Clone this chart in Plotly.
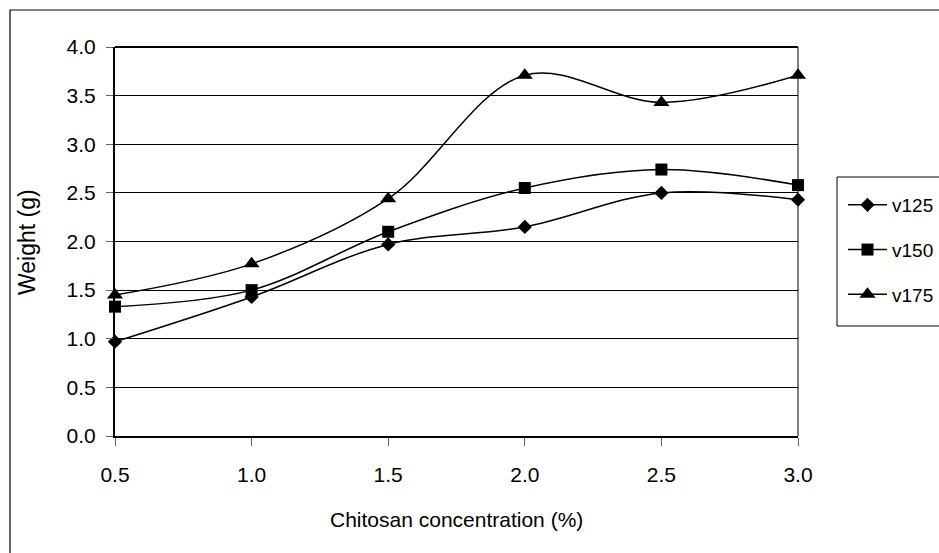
import plotly.graph_objects as go

# Chitosan concentration (%) on the x axis
concentration = [0.5, 1.0, 1.5, 2.0, 2.5, 3.0]

# Weight (g) for each variety
v125 = [0.97, 1.43, 1.97, 2.15, 2.50, 2.43]
v150 = [1.33, 1.50, 2.10, 2.55, 2.74, 2.58]
v175 = [1.45, 1.77, 2.44, 3.71, 3.43, 3.71]

series = [
    ("v125", v125, "diamond", 11),
    ("v150", v150, "square", 12),
    ("v175", v175, "triangle-up", 14),
]

x_ticks = [0.5, 1.0, 1.5, 2.0, 2.5, 3.0]
y_ticks = [0.0, 0.5, 1.0, 1.5, 2.0, 2.5, 3.0, 3.5, 4.0]

FONT = "Liberation Sans, Arial, sans-serif"

fig = go.Figure()
for name, values, symbol, size in series:
    fig.add_trace(go.Scatter(
        x=concentration, y=values, name=name, legendgroup=name,
        mode="lines+markers",
        line=dict(color="black", width=1.5, shape="spline", smoothing=1.0),
        marker=dict(symbol=symbol, size=size, color="black",
                    line=dict(width=0)),
        cliponaxis=False,
    ))

L, R, T, B = 115, 141, 47, 117
W, H = 939, 553
pw, ph = W - L - R, H - T - B


def px_x(px):
    return (px - L) / pw


def px_y(py):
    return (H - B - py) / ph


fig.update_layout(
    width=W, height=H,
    margin=dict(l=L, r=R, t=T, b=B, autoexpand=False),
    paper_bgcolor="white", plot_bgcolor="white",
    font=dict(family=FONT, size=21, color="black"),
    showlegend=True,
    legend=dict(
        x=px_x(843), y=px_y(186), xanchor="left", yanchor="top",
        bgcolor="rgba(0,0,0,0)", borderwidth=0,
        font=dict(family=FONT, size=19, color="black"),
        tracegroupgap=17, traceorder="grouped", itemwidth=39,
    ),
    xaxis=dict(
        range=[0.5, 3.0], tickmode="array", tickvals=x_ticks,
        ticktext=[f"{v:.1f}" for v in x_ticks],
        showgrid=False, zeroline=False,
        showline=True, linecolor="black", linewidth=2,
        ticks="outside", ticklen=8, tickwidth=1, tickcolor="#666",
        ticklabelstandoff=11,
        tickfont=dict(family=FONT, size=21, color="black"),
    ),
    yaxis=dict(
        range=[0.0, 4.0], tickmode="array", tickvals=y_ticks,
        ticktext=[f"{v:.1f}" for v in y_ticks],
        showgrid=True, gridcolor="black", gridwidth=1, zeroline=False,
        showline=True, linecolor="black", linewidth=2,
        ticks="outside", ticklen=7, tickwidth=1, tickcolor="#666",
        ticklabelstandoff=6,
        tickfont=dict(family=FONT, size=21, color="black"),
    ),
    annotations=[
        dict(text="Chitosan concentration (%)", xref="paper", yref="paper",
             x=0.5, y=px_y(519), xanchor="center", yanchor="middle",
             showarrow=False, font=dict(family=FONT, size=21, color="black")),
        dict(text="Weight (g)", xref="paper", yref="paper",
             x=px_x(27), y=px_y(242), xanchor="center", yanchor="middle",
             textangle=-90, showarrow=False,
             font=dict(family=FONT, size=23, color="black")),
    ],
    shapes=[
        # chart-area frame
        dict(type="rect", xref="paper", yref="paper",
             x0=px_x(10), x1=px_x(990), y0=px_y(600), y1=px_y(10),
             line=dict(color="black", width=1.2), layer="below"),
        # legend box
        dict(type="rect", xref="paper", yref="paper",
             x0=px_x(837), x1=px_x(990), y0=px_y(326), y1=px_y(177),
             line=dict(color="black", width=1), fillcolor="white",
             layer="below"),
        # top edge of the plot area
        dict(type="line", xref="paper", yref="paper",
             x0=0, x1=1, y0=1, y1=1, line=dict(color="black", width=2)),
        # right edge of the plot area
        dict(type="line", xref="paper", yref="paper",
             x0=1, x1=1, y0=0, y1=1, line=dict(color="black", width=1)),
    ],
)

fig.write_html("out.html")
